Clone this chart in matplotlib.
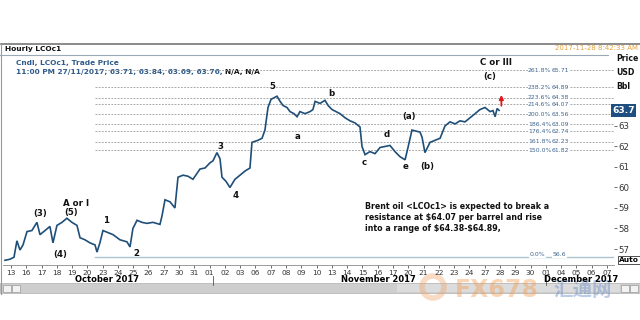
import matplotlib
matplotlib.use("Agg")
import matplotlib.pyplot as plt
from matplotlib.patches import Rectangle, Circle

plt.rcParams['font.family'] = ['DejaVu Sans', 'Noto Sans CJK SC']

# Hourly LCOc1 price path (x = trading-day index from 13 Oct 2017)
day = [-0.39, -0.07, 0.2, 0.39, 0.59, 0.79, 1.05, 1.37, 1.70, 1.90, 2.23, 2.55, 2.75,
       3.01, 3.34, 3.66, 3.99, 4.32, 4.52, 4.84, 5.17, 5.50, 5.63, 5.82, 6.02, 6.35,
       6.68, 7.13, 7.59, 7.79, 7.98, 8.25, 8.57, 8.90, 9.29, 9.75, 9.88, 10.08, 10.41,
       10.73, 10.93, 11.26, 11.58, 11.91, 12.37, 12.70, 13.02, 13.22, 13.48, 13.68,
       13.81, 14.07, 14.33, 14.66, 14.99, 15.31, 15.64, 15.77, 16.16, 16.43, 16.62,
       16.82, 17.02, 17.41, 17.61, 17.80, 18.06, 18.26, 18.52, 18.72, 18.91, 19.24,
       19.57, 19.76, 19.90, 20.22, 20.55, 20.75, 21.01, 21.27, 21.53, 21.86, 22.19,
       22.51, 22.84, 22.97, 23.17, 23.49, 23.82, 24.15, 24.48, 24.80, 25.13, 25.46,
       25.79, 25.98, 26.24, 26.50, 26.77, 26.90, 27.09, 27.42, 27.75, 28.08, 28.40,
       28.73, 29.06, 29.38, 29.71, 30.04, 30.37, 30.69, 31.02, 31.35, 31.54, 31.68,
       31.81, 31.94]
price = [56.45, 56.5, 56.6, 57.4, 56.95, 57.2, 57.85, 57.9, 58.3, 57.7, 57.9, 58.1, 57.3,
         58.15, 58.3, 58.5, 58.3, 58.15, 57.55, 57.45, 57.3, 57.2, 56.85, 57.3, 57.9, 57.8,
         57.7, 57.45, 57.35, 57.1, 58.0, 58.4, 58.3, 58.25, 58.3, 58.2, 58.6, 59.4, 59.3,
         59.0, 60.5, 60.6, 60.55, 60.4, 60.9, 60.95, 61.2, 61.3, 61.7, 61.4,
         60.5, 60.3, 60.0, 60.4, 60.6, 60.8, 60.95, 62.2, 62.3, 62.4, 62.8,
         63.9, 64.3, 64.45, 64.2, 64.0, 63.9, 63.7, 63.6, 63.45, 63.7, 63.6,
         63.7, 63.8, 64.2, 64.1, 64.25, 64.0, 63.8, 63.7, 63.6, 63.4, 63.25,
         63.15, 62.95, 62.0, 61.6, 61.75, 61.65, 61.95, 62.0, 62.05, 61.75, 61.5,
         61.35, 61.95, 62.8, 62.75, 62.7, 62.45, 61.7, 62.2, 62.3, 62.4, 63.0,
         63.2, 63.1, 63.25, 63.2, 63.4, 63.6, 63.8, 63.9, 63.7, 63.75, 63.45,
         63.85, 63.76]

date_labels = ['13', '16', '17', '18', '19', '20', '23', '24', '25', '26', '27', '30', '31',
               '01', '02', '03', '06', '07', '08', '09', '10', '13', '14', '15', '16', '17',
               '20', '21', '22', '23', '24', '27', '28', '29', '30', '01', '04', '05', '06', '07']

fib_pct = ['261.8%', '238.2%', '223.6%', '214.6%', '200.0%', '186.4%', '176.4%', '161.8%', '150.0%']
fib_lvl = [65.71, 64.89, 64.38, 64.07, 63.56, 63.09, 62.74, 62.23, 61.82]
base_pct, base_lvl = '0.0%', 56.6

wave_text = ['(3)', 'A or I', '(5)', '(4)', '1', '2', '3', '4', '5', 'a', 'b', 'c', 'd', 'e',
             '(a)', '(b)', '(c)', 'C or III']
wave_x = [1.9, 4.25, 3.93, 3.2, 6.22, 8.18, 13.68, 14.73, 17.08, 18.78, 20.94, 23.1, 24.6,
          25.79, 26.05, 27.23, 31.35, 31.74]
wave_y = [58.71, 59.24, 58.76, 56.71, 58.37, 56.76, 61.98, 59.59, 64.9, 62.51, 64.56, 61.2,
          62.6, 61.0, 63.44, 61.0, 65.39, 66.07]

last_price = 63.76
last_label = '63.7'

W, H = 640, 320
fig = plt.figure(figsize=(6.4, 3.2), dpi=100)

# background / decoration layer in pixel coords
bg = fig.add_axes([0, 0, 1, 1])
bg.set_xlim(0, W)
bg.set_ylim(H, 0)
bg.axis('off')

# faint watermark logo at the bottom (drawn first so everything sits on top)
bg.add_patch(Circle((433, 287), 11, facecolor='none', edgecolor='#f2a46a', lw=4, alpha=0.4))
bg.text(497, 290, 'FX678', fontsize=17, fontweight='bold', color='#f4a259', alpha=0.45,
        ha='center', va='center', zorder=0.5)
bg.text(583, 291, '汇通网', fontsize=14, fontweight='bold', color='#6d8fc9', alpha=0.45,
        ha='center', va='center', family=['Noto Sans CJK SC'], zorder=0.5)

bg.plot([0.5, 639.5], [43.5, 43.5], color='#777777', lw=1.2)
bg.plot([1, 1], [43.5, 294], color='#999999', lw=0.8)
bg.plot([0, 608], [54.5, 54.5], color='#9aa9b5', lw=0.8)
bg.text(5, 49, 'Hourly LCOc1', fontsize=5.3, fontweight='bold', va='center', color='#111111')
bg.text(638, 48, '2017-11-28 8:42:33 AM', fontsize=5.0, va='center', ha='right', color='#e8a33c')
bg.text(16, 62.5, 'Cndl, LCOc1, Trade Price', fontsize=5.3, fontweight='bold', va='center',
        color='#2e5b8a')
t1 = bg.text(16, 72, '11:00 PM 27/11/2017, 63.71, 63.84, 63.69, 63.76, ', fontsize=5.3,
             fontweight='bold', va='center', color='#2e5b8a')
bg.annotate('N/A, N/A', xy=(1, 0.5), xycoords=t1, va='center', fontsize=5.3,
            fontweight='bold', color='#111111')

bg.text(616, 54, 'Price\nUSD\nBbl', fontsize=5.6, fontweight='bold', va='top', ha='left',
        linespacing=1.7, color='#111111')

bg.text(365, 202, 'Brent oil <LCOc1> is expected to break a\n'
        'resistance at \\$64.07 per barrel and rise\n'
        'into a range of \\$64.38-\\$64.89,', fontsize=5.7, fontweight='bold', va='top',
        ha='left', linespacing=1.3, color='#111111')

# scrollbar
bg.add_patch(Rectangle((0, 283), 640, 10, facecolor='#c9c9c9', edgecolor='#aaaaaa', lw=0.5,
                       alpha=0.9, zorder=0.3))
bg.add_patch(Rectangle((397, 284), 223, 8, facecolor='#e2e2e2', edgecolor='none', alpha=0.7,
                       zorder=0.4))
for bx in [3, 12, 621, 630]:
    bg.add_patch(Rectangle((bx, 284.5), 8, 7, facecolor='#f2f2f2', edgecolor='#888888', lw=0.4))

# month labels
bg.text(107, 280, 'October 2017', fontsize=6, fontweight='bold', ha='center', va='center')
bg.text(378, 280, 'November 2017', fontsize=6, fontweight='bold', ha='center', va='center')
bg.text(581, 279, 'December 2017', fontsize=6, fontweight='bold', ha='center', va='center')
bg.plot([213, 213], [276, 285], color='#555555', lw=0.6)
bg.plot([546, 546], [275, 285], color='#555555', lw=0.6)

# Auto box
bg.text(629, 260, 'Auto', fontsize=5.3, fontweight='bold', ha='center', va='center',
        bbox=dict(boxstyle='square,pad=0.15', facecolor='white', edgecolor='#333333', lw=0.6))

# main chart
ax = fig.add_axes([3 / W, 1 - 265 / H, 611 / W, 210 / H])
ax.patch.set_alpha(0)
ax.set_xlim(-0.52, 39.46)
ax.set_ylim(56.22, 66.46)

x0 = 5.5
for pct, lvl in zip(fib_pct, fib_lvl):
    ax.plot([x0, 39.46], [lvl, lvl], color='#9a9a9a', lw=0.6, ls=(0, (2.2, 1.6)))
    ax.text(33.83, lvl, pct, fontsize=4.4, color='#3f6590', va='center', ha='left',
            bbox=dict(boxstyle='square,pad=0.05', facecolor='white', edgecolor='none'))
    ax.text(35.35, lvl, f'{lvl:.2f}', fontsize=4.4, color='#3f6590', va='center', ha='left',
            bbox=dict(boxstyle='square,pad=0.05', facecolor='white', edgecolor='none'))
ax.plot([x0, 39.46], [base_lvl, base_lvl], color='#a9c3cf', lw=1.0)
ax.text(33.95, base_lvl + 0.12, base_pct, fontsize=4.4, color='#3f6590', va='center', ha='left',
        bbox=dict(boxstyle='square,pad=0.05', facecolor='white', edgecolor='none'))
ax.text(35.45, base_lvl + 0.12, f'{base_lvl:.1f}', fontsize=4.4, color='#3f6590', va='center',
        ha='left', bbox=dict(boxstyle='square,pad=0.05', facecolor='white', edgecolor='none'))

ax.plot(day, price, color='#1f4f78', lw=1.2, solid_joinstyle='miter')

for t, x, y in zip(wave_text, wave_x, wave_y):
    ax.text(x, y, t, fontsize=6.2, fontweight='bold', ha='center', va='center', color='#111111')

ax.annotate('', xy=(day[-1] + 0.15, 64.65), xytext=(day[-1] + 0.15, 63.85),
            arrowprops=dict(arrowstyle='-|>', color='#e0161b', lw=1.3, mutation_scale=6))

# axes styling
for s in ['top', 'left', 'right']:
    ax.spines[s].set_visible(False)
ax.spines['bottom'].set_color('#8a8a8a')
ax.spines['bottom'].set_linewidth(0.6)
ax.set_xticks(range(len(date_labels)))
ax.set_xticklabels(date_labels)
ax.tick_params(axis='x', length=2, width=0.5, pad=1.5, labelsize=5.3, colors='#333333')
ax.yaxis.tick_right()
ax.set_yticks(range(57, 64))
ax.tick_params(axis='y', length=2, width=0.5, pad=1, labelsize=6.2, colors='#333333')

ax.text(0.997, last_price, last_label, transform=ax.get_yaxis_transform(),
        fontsize=6.6, fontweight='bold', color='white', va='center', ha='left',
        bbox=dict(boxstyle='square,pad=0.18', facecolor='#1f4f80', edgecolor='none'))

fig.savefig('out.png', dpi=100, facecolor='white')
